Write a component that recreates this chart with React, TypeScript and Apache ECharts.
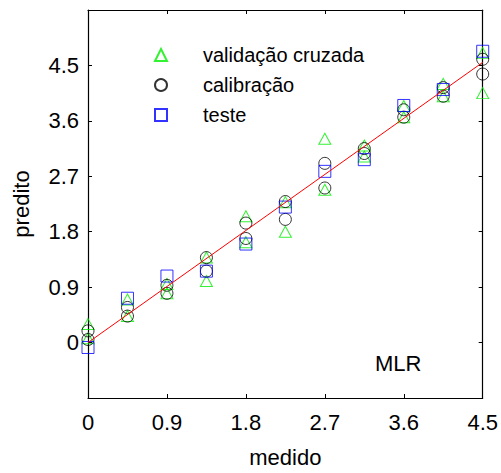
import React, { useEffect, useRef } from "react";
import * as echarts from "echarts";

const xValues = [0, 0.45, 0.9, 1.35, 1.8, 2.25, 2.7, 3.15, 3.6, 4.05, 4.5];

// validação cruzada (two triangles per x)
const cvA = [0.3, 0.7, 0.95, 1.38, 2.05, 2.28, 3.31, 3.2, 3.84, 4.2, 4.7];
const cvB = [0.07, 0.43, 0.8, 1.0, 1.63, 1.8, 2.48, 3.02, 3.66, 4.0, 4.05];

// calibração (two circles per x)
const calA = [0.19, 0.57, 0.93, 1.38, 1.94, 2.29, 2.91, 3.15, 3.78, 4.14, 4.6];
const calB = [0.05, 0.43, 0.8, 1.16, 1.69, 2.0, 2.51, 3.07, 3.66, 4.0, 4.36];

// teste (one square per x)
const testY = [-0.08, 0.72, 1.08, 1.16, 1.6, 2.2, 2.78, 2.97, 3.85, 4.11, 4.73];

const fitLine = [
  [0, 0],
  [4.5, 4.55],
];

const xTicks = { min: 0, max: 4.5, interval: 0.9 };
const yTicks = { min: -0.9, max: 5.4, interval: 0.9 };

const FONT = "'Liberation Sans', Arial, Helvetica, sans-serif";

function pairs(ys: number[]) {
  return xValues.map((x, i) => [x, ys[i]]);
}

export default function App() {
  const ref = useRef<HTMLDivElement>(null);
  useEffect(() => {
    if (!ref.current) return;
    const chart = echarts.init(ref.current, null, { renderer: "svg" });
    const fmt = (v: number) => {
      if (v < -0.01 || v > 4.6) return "";
      return String(Math.round(v * 10) / 10);
    };
    const tick = { show: true, inside: true, length: 4, lineStyle: { color: "#000", width: 1 } };
    const line = { show: true, onZero: false, lineStyle: { color: "#000", width: 1.2 } };
    chart.setOption({
      animation: false,
      backgroundColor: "#fff",
      textStyle: { fontFamily: FONT, color: "#000" },
      grid: { left: 88, right: 18, top: 10, bottom: 67, containLabel: false },
      legend: {
        orient: "vertical",
        left: 149,
        top: 40,
        itemWidth: 12,
        itemHeight: 12,
        itemGap: 10,
        symbolKeepAspect: true,
        textStyle: { fontSize: 20, color: "#000", fontFamily: FONT, padding: [0, 0, 0, 31] },
        data: [
          { name: "validação cruzada", icon: "triangle" },
          { name: "calibração", icon: "circle" },
          { name: "teste", icon: "rect" },
        ],
      },
      xAxis: [
        {
          type: "value",
          ...xTicks,
          position: "bottom",
          axisLine: line,
          axisTick: tick,
          splitLine: { show: false },
          axisLabel: { fontSize: 22, color: "#000", margin: 13, formatter: (v: number) => String(Math.round(v * 10) / 10) },
          name: "medido",
          nameLocation: "middle",
          nameGap: 48,
          nameTextStyle: { fontSize: 22, color: "#000" },
        },
        {
          type: "value",
          ...xTicks,
          position: "top",
          axisLine: line,
          axisTick: tick,
          splitLine: { show: false },
          axisLabel: { show: false },
        },
      ],
      yAxis: [
        {
          type: "value",
          ...yTicks,
          position: "left",
          axisLine: line,
          axisTick: tick,
          splitLine: { show: false },
          axisLabel: { fontSize: 22, color: "#000", margin: 9, formatter: fmt },
          name: "predito",
          nameLocation: "middle",
          nameGap: 56,
          nameTextStyle: { fontSize: 22, color: "#000" },
        },
        {
          type: "value",
          ...yTicks,
          position: "right",
          axisLine: line,
          axisTick: tick,
          splitLine: { show: false },
          axisLabel: { show: false },
        },
      ],
      graphic: [
        {
          type: "text",
          left: 375,
          top: 352,
          style: { text: "MLR", font: `22px ${FONT}`, fill: "#000" },
        },
      ],
      series: [
        {
          name: "validação cruzada",
          type: "scatter",
          symbol: "triangle",
          symbolSize: [12, 11],
          clip: false,
          itemStyle: { color: "rgba(0,0,0,0)", borderColor: "#00ee00", borderWidth: 1 },
          data: [...pairs(cvA), ...pairs(cvB)],
          z: 3,
        },
        {
          name: "calibração",
          type: "scatter",
          symbol: "circle",
          symbolSize: 12,
          clip: false,
          itemStyle: { color: "rgba(0,0,0,0)", borderColor: "#000", borderWidth: 1 },
          data: [...pairs(calA), ...pairs(calB)],
          z: 3,
        },
        {
          name: "teste",
          type: "scatter",
          symbol: "rect",
          symbolSize: 12,
          clip: false,
          itemStyle: { color: "rgba(0,0,0,0)", borderColor: "#0000ff", borderWidth: 1 },
          data: pairs(testY),
          z: 3,
        },
        {
          name: "fit",
          type: "line",
          data: fitLine,
          symbol: "none",
          lineStyle: { color: "#ff0000", width: 1 },
          z: 4,
        },
      ],
    });
    return () => chart.dispose();
  }, []);
  return (
    <div
      ref={ref}
      style={{ position: "fixed", left: 0, top: 0, width: 501, height: 473, background: "#fff" }}
    />
  );
}
